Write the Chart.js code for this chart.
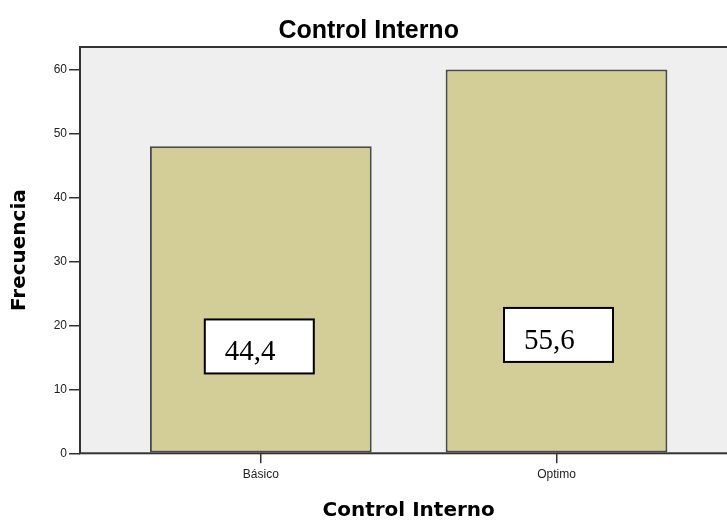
<!DOCTYPE html>
<html>
<head>
<meta charset="utf-8">
<script src="https://cdn.jsdelivr.net/npm/chart.js@4/dist/chart.umd.min.js"></script>
<style>
  html, body { margin: 0; padding: 0; overflow: hidden; background: #ffffff; }
  #wrap { width: 727px; height: 521px; overflow: hidden; }
</style>
</head>
<body>
<div id="wrap"><canvas id="chart" width="740" height="521"></canvas></div>
<script>
// Frequencies per level of "Control Interno"
const categories = ['Básico', 'Optimo'];
const frecuencias = [48, 60];
const yTicks = [0, 10, 20, 30, 40, 50, 60];

// Percentage shown in each note box, derived from the frequencies
const total = frecuencias.reduce((a, b) => a + b, 0);
const porcentajes = frecuencias.map(v => (v / total * 100).toFixed(1).replace('.', ','));

// Note box placement (style only): horizontal shift from bar centre, vertical centre in axis units
const notePlacement = [
  { dx: -1.5, yVal: 16.7 },
  { dx: 2, yVal: 18.5 }
];

const SANS = "'Liberation Sans', Arial, sans-serif";
const WIDE = "'DejaVu Sans', Verdana, sans-serif";
const SERIF = "'Liberation Serif', 'Times New Roman', serif";

const plotFrame = {
  id: 'plotFrame',
  beforeDatasetsDraw(chart) {
    const { ctx, chartArea: a } = chart;
    ctx.save();
    ctx.fillStyle = '#efefef';
    ctx.fillRect(a.left, a.top, a.right - a.left, a.bottom - a.top);
    ctx.restore();
  },
  afterDatasetsDraw(chart) {
    const { ctx, chartArea: a } = chart;
    ctx.save();
    ctx.strokeStyle = '#333333';
    ctx.lineWidth = 2;
    ctx.strokeRect(a.left, a.top, a.right - a.left, a.bottom - a.top);
    ctx.restore();
  }
};

const noteBoxes = {
  id: 'noteBoxes',
  afterDraw(chart) {
    const { ctx } = chart;
    const yScale = chart.scales.y;
    const bars = chart.getDatasetMeta(0).data;
    const w = 109, h = 54;
    ctx.save();
    bars.forEach((bar, i) => {
      const p = notePlacement[i];
      const cx = bar.x + p.dx;
      const cy = yScale.getPixelForValue(p.yVal);
      const left = cx - w / 2, top = cy - h / 2;
      ctx.fillStyle = '#ffffff';
      ctx.fillRect(left, top, w, h);
      ctx.strokeStyle = '#000000';
      ctx.lineWidth = 2;
      ctx.strokeRect(left, top, w, h);
      ctx.fillStyle = '#000000';
      ctx.font = '29px ' + SERIF;
      ctx.textAlign = 'left';
      ctx.textBaseline = 'alphabetic';
      ctx.fillText(porcentajes[i], left + 20, top + 41);
    });
    ctx.restore();
  }
};

new Chart(document.getElementById('chart'), {
  type: 'bar',
  data: {
    datasets: [{
      data: frecuencias.map((v, i) => ({ x: i, y: v })),
      backgroundColor: '#d3ce98',
      borderColor: '#4a4a4a',
      borderWidth: 2,
      borderSkipped: false,
      barPercentage: 0.75,
      categoryPercentage: 1
    }]
  },
  options: {
    responsive: false,
    animation: false,
    devicePixelRatio: 1,
    layout: { padding: { left: 0, right: 2.7, top: 0, bottom: 0 } },
    plugins: {
      legend: { display: false },
      tooltip: { enabled: false },
      title: {
        display: true,
        text: 'Control Interno',
        color: '#000000',
        font: { family: SANS, size: 25, weight: 'bold', lineHeight: 1.2 },
        padding: { top: 16, bottom: 1 }
      }
    },
    scales: {
      x: {
        type: 'linear',
        offset: false,
        min: -0.6114,
        max: 1.6114,
        afterBuildTicks: s => { s.ticks = categories.map((_, i) => ({ value: i })); },
        afterFit: s => { s.height = 67.7; },
        border: { display: false },
        grid: { offset: false, drawOnChartArea: false, drawTicks: true, tickLength: 10, color: '#333333', lineWidth: 1.5 },
        ticks: {
          padding: 4,
          color: '#222222',
          font: { family: SANS, size: 12 },
          maxRotation: 0,
          callback: v => categories[v]
        },
        title: {
          display: true,
          text: 'Control Interno',
          color: '#000000',
          font: { family: WIDE, size: 20, weight: 'bold', lineHeight: 1 },
          padding: { top: 0, bottom: 0 }
        }
      },
      y: {
        min: 0,
        max: 63.5,
        afterBuildTicks: s => { s.ticks = yTicks.map(v => ({ value: v })); },
        afterFit: s => { s.width = 80; },
        border: { display: false },
        grid: { drawOnChartArea: false, drawTicks: true, tickLength: 11, color: '#333333', lineWidth: 1.5 },
        ticks: {
          padding: 2,
          color: '#222222',
          font: { family: SANS, size: 12 }
        },
        title: {
          display: true,
          text: 'Frecuencia',
          color: '#000000',
          font: { family: WIDE, size: 20, weight: 'bold', lineHeight: 1.2 },
          padding: { top: 8, bottom: 0 }
        }
      }
    }
  },
  plugins: [plotFrame, noteBoxes]
});
</script>
</body>
</html>
